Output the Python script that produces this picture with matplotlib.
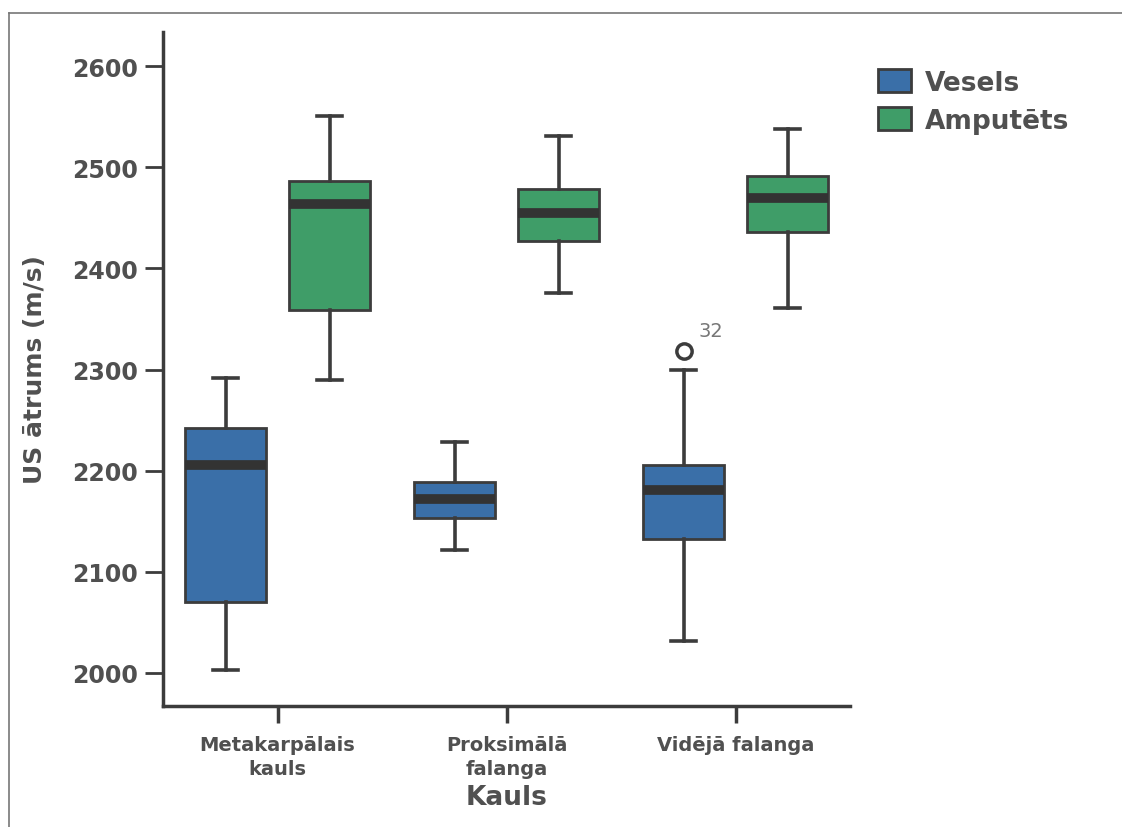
import matplotlib
matplotlib.use("Agg")
import matplotlib.pyplot as plt
from matplotlib.patches import Patch
from matplotlib.lines import Line2D

# US speed by bone, healthy vs amputated (box plot summary values)
bones = ["Metakarpālais\nkauls", "Proksimālā\nfalanga", "Vidējā falanga"]
groups = ["Vesels", "Amputēts"]

vesels_low = [2003, 2121, 2031]
vesels_q1 = [2070, 2153, 2132]
vesels_med = [2206, 2172, 2181]
vesels_q3 = [2242, 2189, 2206]
vesels_high = [2292, 2228, 2300]
vesels_outliers = [[], [], [2318]]
vesels_outlier_ids = [[], [], ["32"]]

amput_low = [2290, 2376, 2361]
amput_q1 = [2359, 2427, 2436]
amput_med = [2464, 2455, 2470]
amput_q3 = [2487, 2479, 2492]
amput_high = [2551, 2531, 2538]

colors = {"Vesels": "#3a6fa8", "Amputēts": "#3f9d68"}
text_col = "#505050"
line_col = "#3c3c3c"

plt.rcParams['font.family'] = ['DejaVu Sans']

fig = plt.figure(figsize=(11.22, 8.28), dpi=100)
ax = fig.add_axes([0.1453, 0.1461, 0.6123, 0.814])


def make_stats(low, q1, med, q3, high, fliers):
    return [dict(whislo=a, q1=b, med=c, q3=d, whishi=e, fliers=f)
            for a, b, c, d, e, f in zip(low, q1, med, q3, high, fliers)]


offset = 0.227
width = 0.35
series = [
    ("Vesels", make_stats(vesels_low, vesels_q1, vesels_med, vesels_q3,
                          vesels_high, vesels_outliers), -offset),
    ("Amputēts", make_stats(amput_low, amput_q1, amput_med, amput_q3,
                            amput_high, [[], [], []]), offset),
]

for name, stats, dx in series:
    pos = [i + dx for i in range(len(bones))]
    ax.bxp(stats, positions=pos, widths=width, patch_artist=True,
           showfliers=True, capwidths=0.11,
           boxprops=dict(facecolor=colors[name], edgecolor=line_col, linewidth=2),
           medianprops=dict(color="#333333", linewidth=7, solid_capstyle="butt"),
           whiskerprops=dict(color=line_col, linewidth=2.6),
           capprops=dict(color=line_col, linewidth=2.6),
           flierprops=dict(marker="o", markersize=11, markerfacecolor="none",
                           markeredgecolor=line_col, markeredgewidth=2.5))

# case label next to the outlier
for i, (vals, ids) in enumerate(zip(vesels_outliers, vesels_outlier_ids)):
    for v, lab in zip(vals, ids):
        ax.annotate(lab, (i - offset, v), xytext=(11, 8), textcoords="offset points",
                    fontsize=14, color="#777777", va="bottom")

ax.set_xlim(-0.5, 2.5)
ax.set_ylim(1967, 2634)
ax.set_yticks(range(2000, 2601, 100))
ax.set_xticks(range(len(bones)))
ax.set_xticklabels(bones, fontsize=14, fontweight="bold", color=text_col,
                   linespacing=1.35)
ax.tick_params(axis="y", labelsize=17, labelcolor=text_col, length=13,
               width=2, color=line_col, pad=5)
ax.tick_params(axis="x", length=12, width=2.5, color=line_col, pad=9)
for lab in ax.get_yticklabels():
    lab.set_fontweight("bold")

for side in ("top", "right"):
    ax.spines[side].set_visible(False)
for side in ("left", "bottom"):
    ax.spines[side].set_linewidth(2.5)
    ax.spines[side].set_color(line_col)

ax.set_ylabel("US ātrums (m/s)", fontsize=18, fontweight="bold", color=text_col,
              labelpad=18)
ax.set_xlabel("Kauls", fontsize=19, fontweight="bold", color=text_col, labelpad=4)

handles = [Patch(facecolor=colors[g], edgecolor=line_col, linewidth=2) for g in groups]
leg = fig.legend(handles, groups, loc="upper left", bbox_to_anchor=(0.761, 0.944),
                 frameon=False, handlelength=1.25, handleheight=0.95,
                 handletextpad=0.55, labelspacing=0.45,
                 prop=dict(weight="bold", size=19))
for t in leg.get_texts():
    t.set_color(text_col)

# page border lines
fig.add_artist(Line2D([0.008, 1.0], [0.983, 0.983], color="#777777", linewidth=1.2))
fig.add_artist(Line2D([0.008, 0.008], [0.0, 0.983], color="#777777", linewidth=1.2))

fig.savefig("out.png", dpi=100)
